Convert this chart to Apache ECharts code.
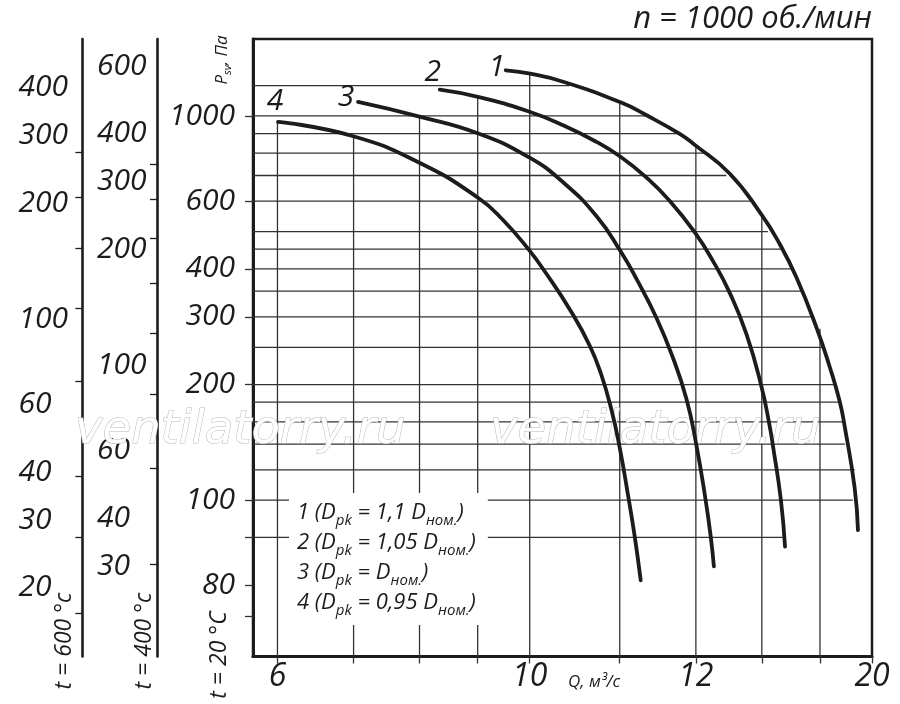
<!DOCTYPE html>
<html><head><meta charset="utf-8">
<script src="https://cdn.jsdelivr.net/npm/echarts@6/dist/echarts.min.js"></script>
<style>html,body{margin:0;padding:0;background:#fff}#c{width:900px;height:704px}</style>
</head><body><div id="c"></div>
<script>
// ---- data ----
const curve1Q = [9.526, 9.981, 10.70, 12.02, 12.67, 13.55, 13.97, 14.99, 15.99, 16.59, 17.16, 17.89, 18.36, 18.73, 18.92, 19.31, 19.44];
const curve1P = [1315, 1290, 1228, 1085, 1004, 898, 841, 708.5, 553.6, 464.4, 380.2, 279.3, 222.2, 181.3, 156.1, 107.6, 83.6];
const curve2Q = [8.334, 9.025, 9.981, 10.70, 11.45, 12.02, 12.67, 13.28, 13.97, 14.49, 14.99, 15.51, 15.99, 16.26, 16.37, 16.63, 16.77];
const curve2P = [1171, 1120, 1027, 946, 856, 783, 691, 601, 497.6, 419.7, 347, 270.4, 197.4, 155.5, 137.8, 100.2, 75.7];
const curve3Q = [7.063, 8.015, 9.025, 9.981, 10.70, 11.45, 12.02, 12.41, 12.93, 13.37, 13.73, 13.99, 14.28, 14.44, 14.52];
const curve3P = [1088, 995, 899, 781, 672, 548.3, 444.5, 377.1, 297.6, 234.1, 184.2, 143.2, 100, 78.7, 67.3];
const curve4Q = [6.007, 6.984, 8.015, 9.025, 9.474, 9.981, 10.34, 10.87, 11.29, 11.56, 11.80, 12.00, 12.20, 12.37, 12.52];
const curve4P = [965, 887, 753, 610, 536, 448.8, 389, 310.2, 252.8, 212.1, 171.9, 136.8, 103.5, 80.4, 61.9];
const curveNames = ['1', '2', '3', '4'];
const legendCoef = ['1,1 ', '1,05 ', '', '0,95 '];

const xTickValues = [6, 7, 8, 9, 10, 12, 14, 16, 18, 20];
const xLabelValues = [6, 10, 14, 20];
const xLabelTexts = ['6', '10', '12', '20'];
const yTickValues = [1000, 600, 400, 300, 200, 100, 80, 60, 50];
const yLabelValues = [1000, 600, 400, 300, 200, 100, 60];
const yLabelTexts = ['1000', '600', '400', '300', '200', '100', '80'];

const t600Ticks = [272, 208, 153, 107, 69, 39, 27, 17.2];
const t600Labels = [400, 300, 200, 100, 60, 40, 30, 20];
const t400Ticks = [333, 270, 214, 163, 121, 84, 54, 30.4];
const t400Labels = [600, 400, 300, 200, 100, 60, 40, 30];

const hGridP = [1200, 1000, 900, 800, 700, 600, 500, 450, 400, 350, 300, 250, 200, 180, 160, 140, 120, 100, 80];
const hGridEndQ = [10.84, 12.75, 13.55, 14.26, 14.89, 15.62, 16.20, 16.65, 16.99, 17.34, 17.75, 18.11, 18.63, 18.68, 18.86, 18.93, 19.31, 19.24, 16.69];
const vGridQ = [6, 7, 8, 9, 10, 12, 14, 16, 18];
const vGridTopP = [965, 887, 995, 1120, 1290, 1085, 841, 553.6, 279.3];

const X_MIN = 5.71, X_MAX = 20, Y_MIN = 39.2, Y_MAX = 1586;
const R600 = 0.338, R400 = 0.445;

// ---- chart ----
const FONT = "'Open Sans', 'Liberation Sans', sans-serif";
const INK = '#1c1c1c';
function lookup(vals, texts) {
  return function (v) {
    for (let i = 0; i < vals.length; i++) if (Math.abs(v - vals[i]) < 1e-6 * vals[i]) return texts[i];
    return '';
  };
}
const curves = [[curve1Q, curve1P], [curve2Q, curve2P], [curve3Q, curve3P], [curve4Q, curve4P]];
const labelOffsets = [[-9, -3], [-7, -17], [-12, -4], [-3, -20]];

const gridData = [];
hGridP.forEach((p, i) => gridData.push([hGridEndQ[i], p, 0]));
vGridQ.forEach((q, i) => gridData.push([q, vGridTopP[i], 1]));

const series = [{
  type: 'custom', z: 1, clip: false, silent: true,
  data: gridData,
  renderItem: function (params, api) {
    const x = api.value(0), y = api.value(1), kind = api.value(2);
    const a = kind === 0 ? api.coord([X_MIN, y]) : api.coord([x, Y_MIN]);
    const b = api.coord([x, y]);
    return { type: 'line', shape: { x1: a[0], y1: a[1], x2: b[0], y2: b[1] },
      style: { stroke: '#333', lineWidth: 1.3 } };
  }
}];
curves.forEach((c, k) => {
  series.push({
    type: 'line', z: 4, smooth: 0.5, symbol: 'none', silent: true,
    data: c[0].map((q, i) => [q, c[1][i]]),
    lineStyle: { color: INK, width: 3.8, cap: 'round', join: 'round' }
  });
});
series.push({
  type: 'scatter', z: 5, symbolSize: 0.01, silent: true,
  itemStyle: { color: INK },
  data: curves.map((c, k) => ({
    value: [c[0][0], c[1][0]],
    label: { show: true, position: 'inside', offset: labelOffsets[k], formatter: curveNames[k],
      fontSize: 30, fontStyle: 'italic', fontFamily: FONT, color: INK, textBorderWidth: 0, opacity: 1 }
  }))
});

const axisLabelBase = { fontStyle: 'italic', fontFamily: FONT, color: INK, fontSize: 30 };
const auxAxis = (r, off, ticks, labels, margin) => ({
  type: 'log', logBase: 10, position: 'left', offset: off,
  min: Y_MIN * r, max: Y_MAX * r,
  axisLine: { show: true, onZero: false, lineStyle: { color: INK, width: 2.6 } },
  axisTick: { show: true, customValues: ticks, length: 7, lineStyle: { color: INK, width: 1.3 } },
  axisLabel: Object.assign({ customValues: labels, align: 'left', margin: margin,
    formatter: v => String(Math.round(v)) }, axisLabelBase),
  splitLine: { show: false }, minorTick: { show: false }
});

const legendText = legendCoef.map((c, i) =>
  curveNames[i] + ' (D{s|pk} = ' + c + 'D{s|ном.})').join('\n');

const wm = (x) => ({ type: 'text', x: x, y: 431, z: 2, style: { text: 'ventilatorry.ru', fill: '#fff', stroke: '#b8b8b8', lineWidth: 1,
  fontSize: 46.5, fontStyle: 'italic', fontFamily: "'DejaVu Sans', sans-serif", align: 'left', textAlign: 'left',
  verticalAlign: 'middle', textVerticalAlign: 'middle' } });

const option = {
  animation: false,
  backgroundColor: '#fff',
  grid: { left: 253, top: 39, right: 28, bottom: 47.5, show: true, borderColor: INK, borderWidth: 2.5 },
  xAxis: {
    type: 'log', logBase: 10, min: X_MIN, max: X_MAX,
    axisLine: { show: true, onZero: false, lineStyle: { color: INK, width: 3 } },
    axisTick: { show: true, customValues: xTickValues, length: 7, lineStyle: { color: '#333', width: 1.3 } },
    axisLabel: Object.assign({ customValues: xLabelValues, formatter: lookup(xLabelValues, xLabelTexts),
      margin: 4 }, axisLabelBase, { fontSize: 32 }),
    splitLine: { show: false }, minorTick: { show: false }
  },
  yAxis: [{
    type: 'log', logBase: 10, min: Y_MIN, max: Y_MAX,
    axisLine: { show: true, onZero: false, lineStyle: { color: INK, width: 3 } },
    axisTick: { show: true, customValues: yTickValues, length: 8, lineStyle: { color: '#333', width: 1.3 } },
    axisLabel: Object.assign({ customValues: yLabelValues, formatter: lookup(yLabelValues, yLabelTexts),
      margin: 18 }, axisLabelBase),
    splitLine: { show: false }, minorTick: { show: false }
  },
    auxAxis(R600, 170.6, t600Ticks, t600Labels, 64),
    auxAxis(R400, 96, t400Ticks, t400Labels, 60)
  ],
  series: series,
  graphic: [
    { type: 'text', x: 872, y: 19, z: 10, style: { text: 'n = 1000 об./мин', fill: INK, fontSize: 31,
      fontStyle: 'italic', fontFamily: FONT, align: 'right', textAlign: 'right', verticalAlign: 'middle', textVerticalAlign: 'middle' } },
    wm(75), wm(490),
    { type: 'text', x: 289, y: 493, z: 3, style: { text: legendText, fill: INK, fontSize: 22, lineHeight: 30,
      fontStyle: 'italic', fontFamily: FONT, backgroundColor: '#fff', padding: [5, 12, 7, 8],
      align: 'left', textAlign: 'left', verticalAlign: 'top', textVerticalAlign: 'top',
      rich: { s: { fontSize: 15, lineHeight: 14, verticalAlign: 'bottom', fontStyle: 'italic', fontFamily: FONT, fill: INK } } } },
    { type: 'text', x: 222, y: 60, rotation: Math.PI / 2, z: 10, style: { text: 'P{s|sv}, Па', fill: INK, fontSize: 17, lineHeight: 22,
      fontStyle: 'italic', fontFamily: FONT, align: 'center', textAlign: 'center', verticalAlign: 'middle', textVerticalAlign: 'middle',
      rich: { s: { fontSize: 11, lineHeight: 11, verticalAlign: 'bottom', fontStyle: 'italic', fontFamily: FONT, fill: INK } } } },
    { type: 'text', x: 568, y: 682, z: 10, style: { text: 'Q, м³/с', fill: INK, fontSize: 17,
      fontStyle: 'italic', fontFamily: FONT, align: 'left', textAlign: 'left', verticalAlign: 'middle', textVerticalAlign: 'middle' } },
    { type: 'text', x: 219, y: 655, rotation: Math.PI / 2, z: 10, style: { text: 't = 20 °C', fill: INK, fontSize: 23,
      fontStyle: 'italic', fontFamily: FONT, align: 'center', textAlign: 'center', verticalAlign: 'middle', textVerticalAlign: 'middle' } },
    { type: 'text', x: 64, y: 641, rotation: Math.PI / 2, z: 10, style: { text: 't = 600 °c', fill: INK, fontSize: 23,
      fontStyle: 'italic', fontFamily: FONT, align: 'center', textAlign: 'center', verticalAlign: 'middle', textVerticalAlign: 'middle' } },
    { type: 'text', x: 144, y: 641, rotation: Math.PI / 2, z: 10, style: { text: 't = 400 °c', fill: INK, fontSize: 23,
      fontStyle: 'italic', fontFamily: FONT, align: 'center', textAlign: 'center', verticalAlign: 'middle', textVerticalAlign: 'middle' } }
  ]
};
const chart = echarts.init(document.getElementById('c'), null, { renderer: 'canvas' });
chart.setOption(option);
</script></body></html>
